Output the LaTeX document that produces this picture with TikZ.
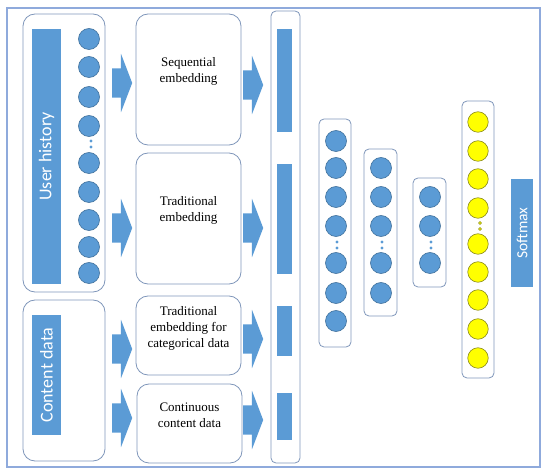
\documentclass[tikz,border=0pt]{standalone}
\usepackage{fontspec}
\setmainfont{Liberation Serif}
\newfontfamily\sidefont{Carlito}
\usepackage{tikz}
\usetikzlibrary{shapes.arrows}

\definecolor{unitblue}{HTML}{5B9BD5}
\definecolor{unitedge}{HTML}{41719C}
\definecolor{boxedge}{HTML}{7F96BA}
\definecolor{frameblue}{HTML}{8FAADC}
\definecolor{outyellow}{HTML}{FFFF00}
\definecolor{outedge}{HTML}{8C8C1E}

\tikzset{
	unit/.style={circle, fill=unitblue, draw=unitedge, line width=0.6pt, minimum size=21pt, inner sep=0pt},
	outunit/.style={unit, fill=outyellow, draw=outedge, minimum size=20.5pt},
	groupbox/.style={draw=boxedge, line width=0.8pt, rounded corners=12pt, inner sep=0pt},
	layerbox/.style={draw=boxedge, line width=0.8pt, rounded corners=5pt, inner sep=0pt},
	embtext/.style={align=center, font=\fontsize{13}{16}\selectfont},
	sidebar/.style={fill=unitblue, text=white, inner sep=0pt, rotate=90, font=\sidefont\fontsize{18}{20}\selectfont},
	concatbar/.style={fill=unitblue, inner sep=0pt, minimum width=15pt},
	blockarrow/.style={single arrow, fill=unitblue, draw=none, anchor=tail, text height=0pt, text depth=0pt,
		inner xsep=0pt, inner ysep=14.5pt, single arrow head extend=14.5pt, single arrow tip angle=138, minimum height=20pt}
}

\begin{document}
\begin{tikzpicture}[x=1pt, y=-1pt]
		
		\useasboundingbox (0,0) rectangle (550,476);
		
		% Outer frame
		\draw[frameblue, line width=1.2pt] (7,8) rectangle (540,467);
		
		% User history input
		\node[groupbox, minimum width=82pt, minimum height=278pt] (uhbox) at (64,153) {};
		\node[sidebar, minimum width=255pt, minimum height=29pt] (uhbar) at (46.5,156.5) {User history};
		\foreach \y [count=\i] in {39,67,97,126,163,192,220,247,273}
			\node[unit] (uh\i) at (89,\y) {};
		\foreach \y in {141,147}
			\fill[unitblue] (91,\y) circle (1.6pt);
		
		% Content data input
		\node[groupbox, minimum width=82pt, minimum height=161pt] (cdbox) at (64,380.5) {};
		\node[sidebar, minimum width=120pt, minimum height=29pt] (cdbar) at (46.5,375) {Content data};
		
		% Embedding boxes
		\node[groupbox, minimum width=105pt, minimum height=131pt] (seq) at (188.5,79.5) {};
		\node[embtext] at ([yshift=8pt]seq.center) {Sequential\\embedding};
		
		\node[groupbox, minimum width=105pt, minimum height=131pt] (trad) at (188.5,218.5) {};
		\node[embtext] at ([yshift=8pt]trad.center) {Traditional\\embedding};
		
		\node[groupbox, minimum width=105pt, minimum height=79pt] (cat) at (188.5,335.5) {};
		\node[embtext] at ([yshift=7pt]cat.center) {Traditional\\embedding for\\categorical data};
		
		\node[groupbox, minimum width=105pt, minimum height=79pt] (cont) at (189.5,423.5) {};
		\node[embtext] at ([yshift=8pt]cont.center) {Continuous\\content data};
		
		% Arrows into the embeddings
		\node[blockarrow] (in1) at (112,83) {};
		\node[blockarrow] (in2) at (112,228) {};
		\node[blockarrow] (in3) at (112,349) {};
		\node[blockarrow] (in4) at (112,418) {};
		
		% Arrows out of the embeddings
		\node[blockarrow] (out1) at (243,85) {};
		\node[blockarrow] (out2) at (243,228) {};
		\node[blockarrow] (out3) at (243,339) {};
		\node[blockarrow] (out4) at (243,420) {};
		
		% Concatenation
		\node[layerbox, minimum width=29pt, minimum height=452pt] (concat) at (285.5,237) {};
		\node[concatbar, minimum height=103pt] (c1) at (284.5,80.5) {};
		\node[concatbar, minimum height=110pt] (c2) at (284.5,219) {};
		\node[concatbar, minimum height=50pt] (c3) at (284.5,331) {};
		\node[concatbar, minimum height=47pt] (c4) at (284.5,416.5) {};
		
		% Hidden layers
		\node[layerbox, minimum width=32pt, minimum height=228pt] (hid1) at (335,233) {};
		\foreach \y [count=\i] in {141,168,197,226,263,293,321}
			\node[unit] (ha\i) at (336,\y) {};
		
		\node[layerbox, minimum width=33pt, minimum height=167pt] (hid2) at (380.5,232.5) {};
		\foreach \y [count=\i] in {168,197,226,263,293}
			\node[unit] (hb\i) at (381,\y) {};
		
		\node[layerbox, minimum width=33pt, minimum height=109pt] (hid3) at (429.5,232.5) {};
		\foreach \y [count=\i] in {197,226,263}
			\node[unit] (hc\i) at (430,\y) {};
		
		\foreach \x in {337,382,431}
			\foreach \y in {242,248}
				\fill[unitblue] (\x,\y) circle (1.6pt);
		
		% Output layer
		\node[layerbox, minimum width=32pt, minimum height=277pt] (outbox) at (478,239.5) {};
		\foreach \y [count=\i] in {122,151,179,208,244,272,300,329,358}
			\node[outunit] (o\i) at (478,\y) {};
		\foreach \y in {223,229}
			\draw[outedge, fill=outyellow, line width=0.5pt] (480,\y) circle (1.5pt);
		
		% Softmax
		\node[sidebar, font=\sidefont\fontsize{15.5}{18}\selectfont, minimum width=108pt, minimum height=22pt] (soft) at (522,233) {Softmax};
		
	\end{tikzpicture}
\end{document}
